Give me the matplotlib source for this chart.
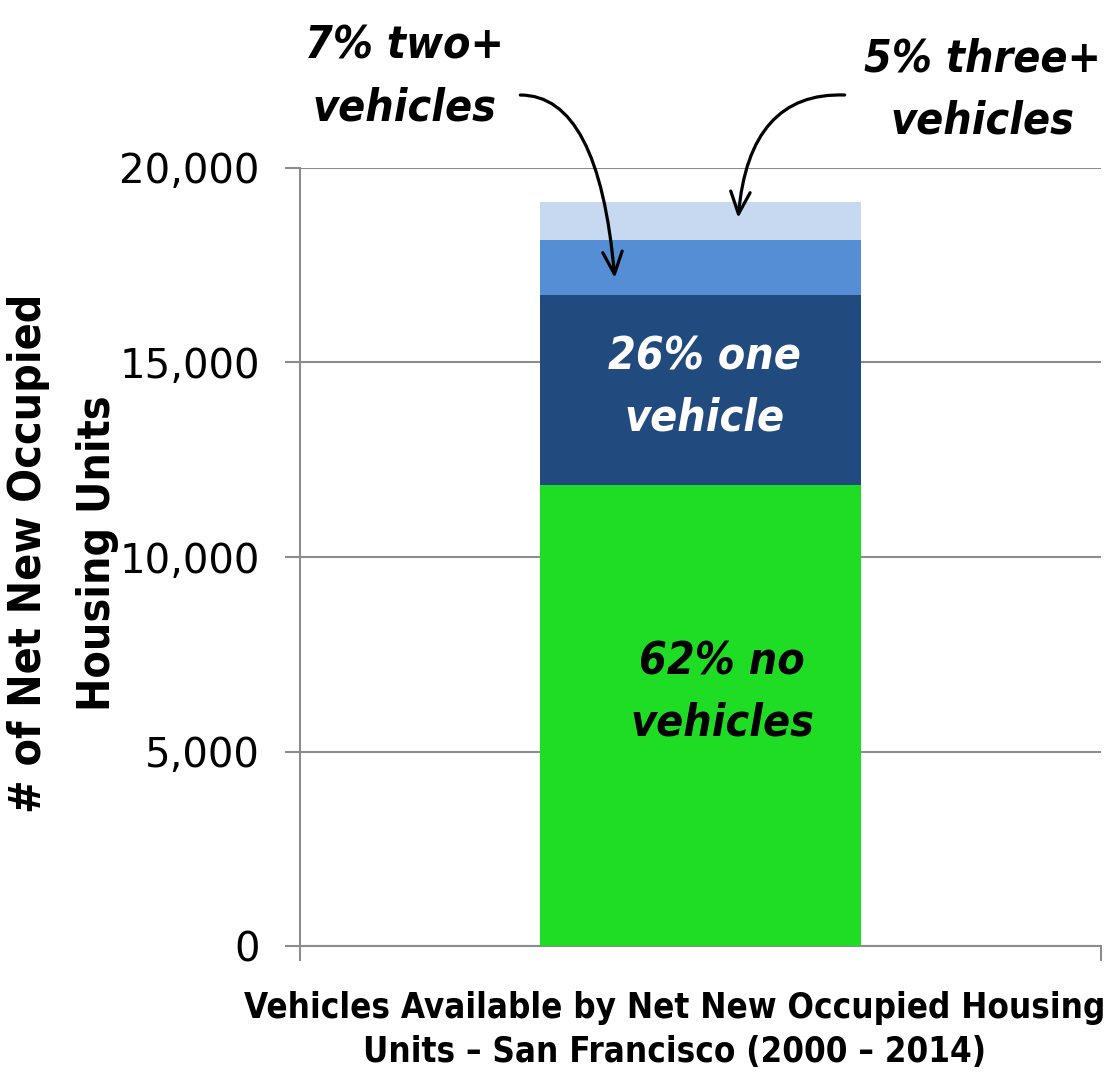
import numpy as np
import matplotlib.pyplot as plt

# stacked segments (bottom to top)
segments = ["no vehicles", "one vehicle", "two+ vehicles", "three+ vehicles"]
values = [11850, 4885, 1415, 977]
colors = ["#1fdd25", "#214a7e", "#558ed5", "#c6d9f1"]
yticks = [0, 5000, 10000, 15000, 20000]

cond = dict(family=["Liberation Sans Narrow", "DejaVu Sans"], stretch="condensed")

fig = plt.figure(figsize=(11.14, 10.88), dpi=100)
ax = fig.add_axes([0.2693, 0.1305, 0.7190, 0.7151])

bottom = 0
for v, c in zip(values, colors):
    ax.bar(0, v, width=0.4, bottom=bottom, color=c, zorder=3)
    bottom += v

ax.set_xlim(-0.5, 0.5)
ax.set_ylim(0, 20000)
ax.set_yticks(yticks)
ax.set_yticklabels([f"{t:,}" for t in yticks], fontsize=29, family="DejaVu Sans")
ax.set_xticks([-0.5, 0.5])
ax.set_xticklabels([])
ax.grid(axis="y", color="#8c8c8c", lw=1.5, zorder=0)
for s in ["top", "right"]:
    ax.spines[s].set_visible(False)
for s in ["left", "bottom"]:
    ax.spines[s].set_color("#8c8c8c")
    ax.spines[s].set_linewidth(1.5)
ax.tick_params(axis="both", color="#8c8c8c", width=1.5, length=11)
ax.tick_params(axis="y", pad=18)

ax.set_ylabel("# of Net New Occupied\nHousing Units", fontsize=32, fontweight="bold",
              linespacing=1.75, **cond)
ax.yaxis.set_label_coords(-0.226, 0.505)
ax.set_xlabel("Vehicles Available by Net New Occupied Housing\nUnits \u2013 San Francisco (2000 \u2013 2014)",
              fontsize=25, fontweight="bold", linespacing=1.35, **cond)
ax.xaxis.set_label_coords(0.468, -0.058)
ax.xaxis.label.set_va("top")

lbl = dict(ha="center", va="center", fontsize=32, style="italic", fontweight="bold",
           linespacing=1.55, **cond)

# labels inside the bar
ax.text(0.027, 6520, "62% no\nvehicles", color="black", zorder=4, **lbl)
ax.text(0.005, 14360, "26% one\nvehicle", color="white", zorder=4, **lbl)

# callouts above the bar
ax.text(-0.369, 22330, "7% two+\nvehicles", clip_on=False, **lbl)
ax.text(0.352, 22000, "5% three+\nvehicles", clip_on=False, **lbl)

head = "->,head_length=1.6,head_width=0.7"
ax.annotate("", xy=(-0.107, 17172), xytext=(-0.225, 21876),
            arrowprops=dict(arrowstyle=head, lw=2.3, color="black", shrinkA=0, shrinkB=0,
                            connectionstyle="angle3,angleA=0,angleB=95"),
            annotation_clip=False, zorder=5)
ax.annotate("", xy=(0.047, 18715), xytext=(0.180, 21876),
            arrowprops=dict(arrowstyle=head, lw=2.3, color="black", shrinkA=0, shrinkB=0,
                            connectionstyle="angle3,angleA=178,angleB=85"),
            annotation_clip=False, zorder=5)

plt.savefig("out.png", dpi=100)
